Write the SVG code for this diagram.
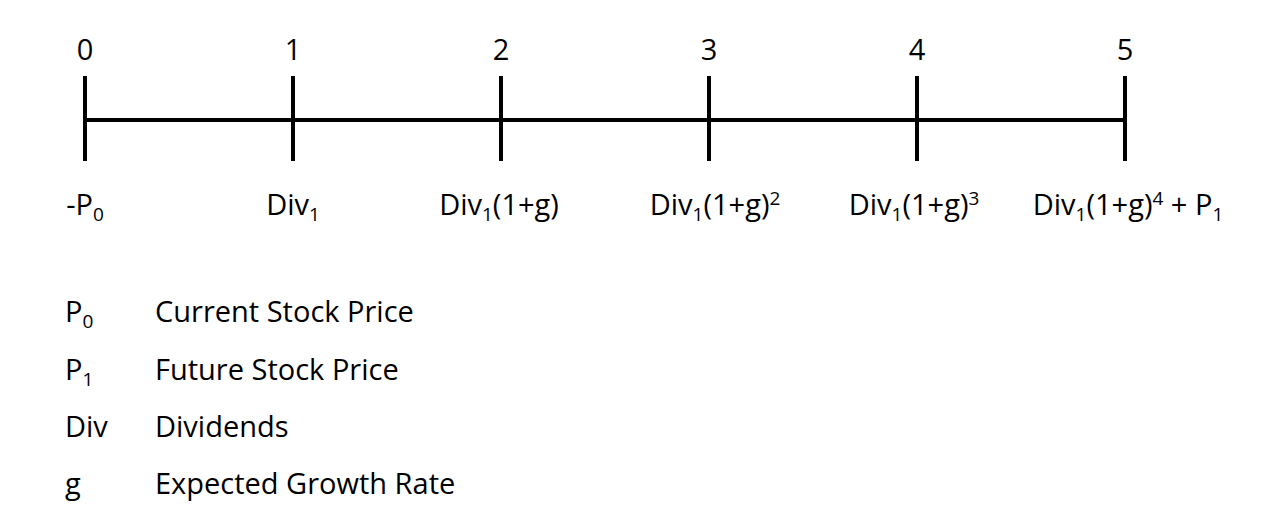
<svg xmlns="http://www.w3.org/2000/svg" width="1268" height="530" viewBox="0 0 1268 530">
<style>
text{font-family:"Open Sans","Noto Sans","Liberation Sans",sans-serif;font-size:29px;fill:#000}
.m{text-anchor:middle}
.s{font-size:19px}
.line{stroke:#000;stroke-width:4;fill:none}
</style>
<rect width="1268" height="530" fill="#fff"/>
<g id="connectors">
<line class="line" x1="85" y1="120" x2="1125" y2="120"/>
</g>
<g id="t0"><line class="line" x1="85" y1="76" x2="85" y2="161"/><text class="m" x="85" y="60">0</text><text class="m" x="85" y="215">-P<tspan class="s" dy="6">0</tspan></text></g>
<g id="t1"><line class="line" x1="293" y1="76" x2="293" y2="161"/><text class="m" x="293" y="60">1</text><text class="m" x="293" y="215">Div<tspan class="s" dy="6">1</tspan></text></g>
<g id="t2"><line class="line" x1="501" y1="76" x2="501" y2="161"/><text class="m" x="501" y="60">2</text><text class="m" x="499" y="215">Div<tspan class="s" dy="6">1</tspan><tspan dy="-6">(1+g)</tspan></text></g>
<g id="t3"><line class="line" x1="709" y1="76" x2="709" y2="161"/><text class="m" x="709" y="60">3</text><text class="m" x="715" y="215">Div<tspan class="s" dy="6">1</tspan><tspan dy="-6">(1+g)</tspan><tspan class="s" dy="-10">2</tspan></text></g>
<g id="t4"><line class="line" x1="917" y1="76" x2="917" y2="161"/><text class="m" x="917" y="60">4</text><text class="m" x="914" y="215">Div<tspan class="s" dy="6">1</tspan><tspan dy="-6">(1+g)</tspan><tspan class="s" dy="-10">3</tspan></text></g>
<g id="t5"><line class="line" x1="1125" y1="76" x2="1125" y2="161"/><text class="m" x="1125" y="60">5</text><text class="m" x="1128" y="215">Div<tspan class="s" dy="6">1</tspan><tspan dy="-6">(1+g)</tspan><tspan class="s" dy="-10">4</tspan><tspan dy="10"> + P</tspan><tspan class="s" dy="6">1</tspan></text></g>
<g id="legend">
<text x="65" y="322">P<tspan class="s" dy="6">0</tspan></text><text x="155" y="322">Current Stock Price</text>
<text x="65" y="379.5">P<tspan class="s" dy="6">1</tspan></text><text x="155" y="379.5">Future Stock Price</text>
<text x="65" y="437">Div</text><text x="155" y="437">Dividends</text>
<text x="65" y="494">g</text><text x="155" y="494">Expected Growth Rate</text>
</g>
</svg>
